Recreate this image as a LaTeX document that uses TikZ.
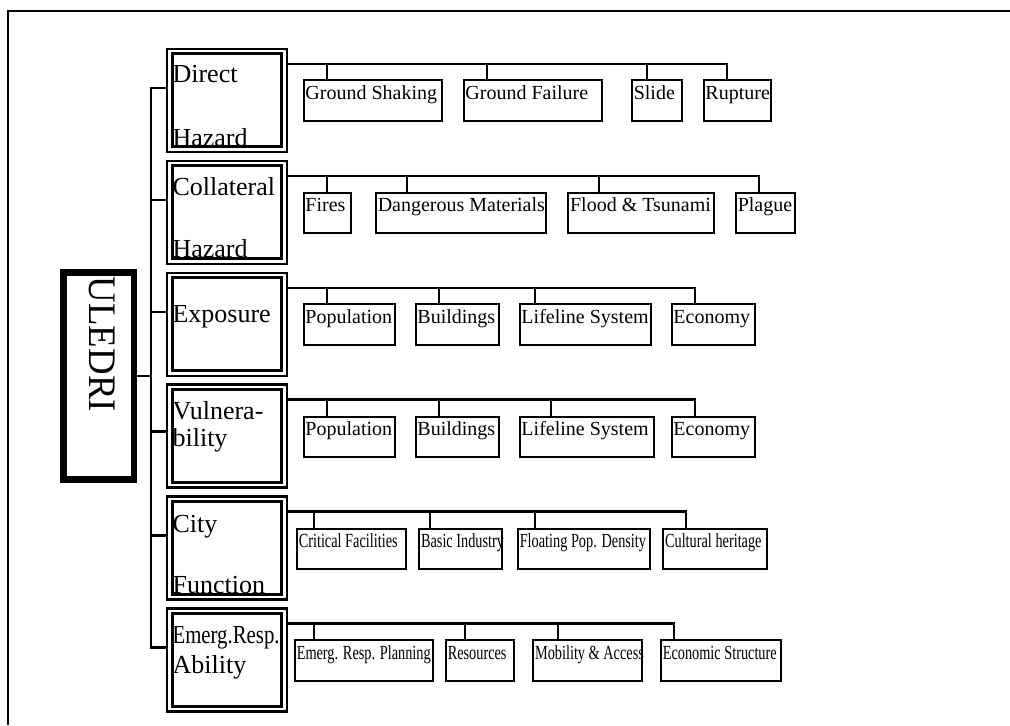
\documentclass[tikz,border=0pt]{standalone}
\usepackage{fontspec}
\usepackage{graphicx}
\setmainfont{Liberation Serif}
\usetikzlibrary{calc}
\tikzset{
  conn/.style={line width=1.6pt},
  kid/.style={draw, line width=1.6pt, rectangle, inner sep=0pt, outer sep=0pt, minimum height={40.5*0.75pt}},
  kidtext/.style={inner sep=0pt, font=\fontsize{15}{18}\selectfont},
  catbox/.style={draw, line width=1.6pt, rectangle, inner sep=0pt, outer sep=0pt, minimum width={120*0.75pt}, minimum height={103*0.75pt}},
  catin/.style={line width=2.6pt},
  cattext/.style={inner sep=0pt, font=\fontsize{19.5}{23}\selectfont},
  rootbox/.style={draw, line width=4.8pt, rectangle, inner sep=0pt, outer sep=0pt, minimum width={70.7*0.75pt}, minimum height={207*0.75pt}},
  frameline/.style={line width=1.6pt}
}
\newcommand\kidnode[7]{%
  \node[kid, minimum width={(#5-#4-2)*0.75pt}, anchor=north west] (#1) at (#4+1,#3+1) {};
  \node[kidtext, anchor=base west] (#1t) at (#4+2.5,#3+20) {#7};
  \draw[conn] ([yshift=-11.25pt]#2.north east) -| ([xshift={(#6-#4-1)*0.75pt}]#1.north west);
}
\newcommand\sq[1]{\scalebox{0.715}[1]{#1}}
\begin{document}
\begin{tikzpicture}[x=0.75pt,y=-0.75pt]
\useasboundingbox (0,0) rectangle (1010,725);
\draw[frameline] (8,725) -- (8,11) -- (1010,11);

% root
\node[rootbox] (root) at (98.65,376) {};
\node[rotate=-90, anchor=base west, inner sep=0pt, font=\fontsize{29.25}{30}\selectfont] (roott) at (89.3,276.5) {\scalebox{0.945}[1]{ULEDRI}};

% categories
\foreach \i/\T in {1/47.7,2/159.65,3/271.6,4/383.55,5/495.5,6/607.45} {
  \node[catbox] (c\i) at (227,\T+52.5) {};
  \draw[catin] ($(c\i.north west)+(5.3,5)$) rectangle ($(c\i.south east)+(-5.3,-5)$);
}

% bus
\coordinate (s1) at (151,87.7);
\coordinate (s2) at (151,199.65);
\coordinate (s3) at (151,311.6);
\coordinate (s4) at (151,431.55);
\coordinate (s5) at (151,535.5);
\coordinate (s6) at (151,647.45);
\draw[conn] (root.east) -- (root.east -| s1);
\draw[conn] (s1 -| c1.west) -- (s1) -- (s6) -- (s6 -| c6.west);
\foreach \i in {2,3,4,5} { \draw[conn] (s\i) -- (s\i -| c\i.west); }

% category texts
\node[cattext, anchor=base west] (t1a) at (172.3,82.7) {Direct};
\node[cattext, anchor=base west] (t1b) at (172.3,146) {Hazard};
\node[cattext, anchor=base west] (t2a) at (172.3,195.2) {Collateral};
\node[cattext, anchor=base west] (t2b) at (172.3,257.9) {Hazard};
\node[cattext, anchor=base west] (t3a) at (172.3,322.7) {Exposure};
\node[cattext, anchor=base west] (t4a) at (172.3,419.5) {Vulnera-};
\node[cattext, anchor=base west] (t4b) at (172.3,446.5) {bility};
\node[cattext, anchor=base west] (t5a) at (172.3,532.8) {City};
\node[cattext, anchor=base west] (t5b) at (172.3,593) {Function};
\node[cattext, anchor=base west] (t6a) at (172.3,643.3) {\scalebox{0.8}[1]{Emerg.Resp.}};
\node[cattext, anchor=base west] (t6b) at (172.3,673) {Ability};

% row 1
\kidnode{gs}{c1}{79.3}{302.7}{443.3}{327}{Ground Shaking}
\kidnode{gf}{c1}{79.3}{462.7}{603.3}{487.3}{Ground Failure}
\kidnode{sl}{c1}{79.3}{631}{683.3}{647.3}{Slide}
\kidnode{ru}{c1}{79.3}{702.7}{771.7}{727}{Rupture}
% row 2
\kidnode{fi}{c2}{191.7}{302.7}{351.7}{327}{Fires}
\kidnode{dm}{c2}{191.7}{375}{547.3}{407}{Dangerous Materials}
\kidnode{ft}{c2}{191.7}{567.3}{715}{599.3}{Flood \& Tsunami}
\kidnode{pl}{c2}{191.7}{735}{796}{759.3}{Plague}
% row 3
\kidnode{xp}{c3}{303.3}{302.7}{395.7}{327}{Population}
\kidnode{xb}{c3}{303.3}{414.7}{500}{439}{Buildings}
\kidnode{xl}{c3}{303.3}{518.7}{652}{535}{Lifeline System}
\kidnode{xe}{c3}{303.3}{670.7}{756}{695}{Economy}
% row 4
\kidnode{vp}{c4}{415.7}{302.7}{395.7}{327}{Population}
\kidnode{vb}{c4}{415.7}{414.7}{500}{439}{Buildings}
\kidnode{vl}{c4}{415.7}{518.7}{655.3}{551}{Lifeline System}
\kidnode{ve}{c4}{415.7}{670.7}{756}{695}{Economy}
% row 5
\kidnode{cf}{c5}{527.7}{296}{407.3}{314}{\sq{Critical Facilities}}
\kidnode{bi}{c5}{527.7}{418.3}{502.7}{430.3}{\sq{Basic Industry}}
\kidnode{fp}{c5}{527.7}{517}{651}{535}{\sq{Floating Pop. Density}}
\kidnode{ch}{c5}{527.7}{662.3}{768.3}{686}{\sq{Cultural heritage}}
% row 6
\kidnode{rp}{c6}{639.3}{294}{434}{314}{\sq{Emerg. Resp. Planning}}
\kidnode{rs}{c6}{639.3}{445}{515}{465}{\sq{Resources}}
\kidnode{ma}{c6}{639.3}{532.3}{643.3}{557.7}{\sq{Mobility \& Access}}
\kidnode{es}{c6}{639.3}{660}{781.7}{674.3}{\sq{Economic Structure}}
\end{tikzpicture}
\end{document}
